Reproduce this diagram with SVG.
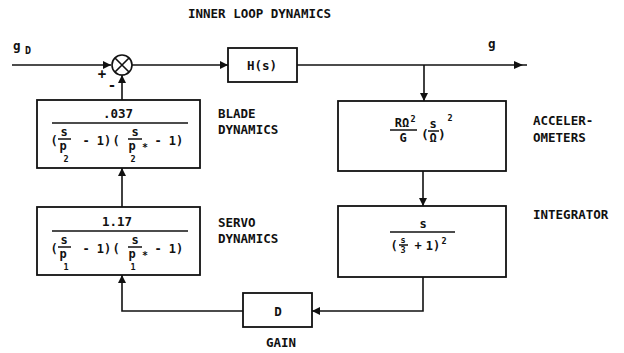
<svg xmlns="http://www.w3.org/2000/svg" width="624" height="353" viewBox="0 0 624 353">
<style>
  text { font-family: "DejaVu Sans Mono", "Liberation Mono", monospace; fill: #111; font-weight: bold; }
  .lbl { font-size: 12.5px; }
  .num { font-size: 12.5px; text-anchor: middle; }
  .den { font-size: 12px; text-anchor: middle; }
  .sub { font-size: 8.5px; text-anchor: middle; }
  .box { fill: #fff; stroke: #111; stroke-width: 1.8; }
  .ln { fill: none; stroke: #111; stroke-width: 1.6; }
  .bar { stroke: #111; stroke-width: 1.5; }
</style>
<defs>
  <marker id="arr" viewBox="0 0 10 10" refX="10" refY="5" markerWidth="8" markerHeight="8" markerUnits="userSpaceOnUse" orient="auto">
    <path d="M0,0 L10,5 L0,10 Z" fill="#111"/>
  </marker>
</defs>

<text class="lbl" x="188" y="18">INNER LOOP DYNAMICS</text>

<g id="connectors">
  <path class="ln" d="M12,65 L111,65" marker-end="url(#arr)"/>
  <path class="ln" d="M132,65 L228,65" marker-end="url(#arr)"/>
  <path class="ln" d="M297,65 L527,65"/>
  <path d="M514,61 L523,65 L514,69 Z" fill="#111"/>
  <path class="ln" d="M424,65 L424,101" marker-end="url(#arr)"/>
  <path class="ln" d="M423,171 L423,206" marker-end="url(#arr)"/>
  <path class="ln" d="M423,277 L423,311 L312,311" marker-end="url(#arr)"/>
  <path class="ln" d="M243,311 L122,311 L122,275" marker-end="url(#arr)"/>
  <path class="ln" d="M122,207 L122,168" marker-end="url(#arr)"/>
  <path class="ln" d="M122,100 L122,75" marker-end="url(#arr)"/>
</g>

<g id="input-label">
  <text class="lbl" x="13" y="50">g</text>
  <text class="sub" x="28" y="54" style="font-size:10px">D</text>
</g>

<g id="output-label">
  <text class="lbl" x="488" y="48">g</text>
</g>

<g id="junction">
  <circle cx="122" cy="65" r="10" fill="#fff" stroke="#111" stroke-width="1.6"/>
  <path class="ln" d="M115,58 L129,72 M129,58 L115,72"/>
  <text class="lbl" x="102" y="79" text-anchor="middle" style="font-size:14px">+</text>
  <text class="lbl" x="112" y="90" text-anchor="middle" style="font-size:14px">-</text>
</g>

<g id="H">
  <rect class="box" x="228" y="48" width="69" height="34"/>
  <text class="num" x="262" y="70">H(s)</text>
</g>

<g id="blade">
  <rect class="box" x="37" y="100" width="163" height="68"/>
  <text class="num" x="118" y="118">.037</text>
  <line class="bar" x1="52" y1="123" x2="188" y2="123"/>
  <text class="den" x="54" y="145">(</text>
  <text class="den" x="64" y="136">s</text>
  <line class="bar" x1="58" y1="139" x2="71" y2="139"/>
  <text class="den" x="63" y="150">p</text>
  <text class="sub" x="66" y="162">2</text>
  <text class="den" x="86" y="145">-</text>
  <text class="den" x="104" y="145">1)</text>
  <text class="den" x="116" y="145">(</text>
  <text class="den" x="135" y="136">s</text>
  <line class="bar" x1="128" y1="139" x2="142" y2="139"/>
  <text class="den" x="132" y="150">p</text>
  <text class="sub" x="145" y="151" style="font-size:10px">*</text>
  <text class="sub" x="133" y="162">2</text>
  <text class="den" x="158" y="145">-</text>
  <text class="den" x="176" y="145">1)</text>
  <text class="lbl" x="218" y="118">BLADE</text>
  <text class="lbl" x="218" y="134">DYNAMICS</text>
</g>

<g id="servo">
  <rect class="box" x="37" y="207" width="163" height="68"/>
  <text class="num" x="117" y="226">1.17</text>
  <line class="bar" x1="52" y1="231" x2="188" y2="231"/>
  <text class="den" x="54" y="253">(</text>
  <text class="den" x="64" y="244">s</text>
  <line class="bar" x1="58" y1="247" x2="71" y2="247"/>
  <text class="den" x="63" y="258">p</text>
  <text class="sub" x="66" y="270">1</text>
  <text class="den" x="86" y="253">-</text>
  <text class="den" x="104" y="253">1)</text>
  <text class="den" x="116" y="253">(</text>
  <text class="den" x="135" y="244">s</text>
  <line class="bar" x1="128" y1="247" x2="142" y2="247"/>
  <text class="den" x="132" y="258">p</text>
  <text class="sub" x="145" y="259" style="font-size:10px">*</text>
  <text class="sub" x="133" y="270">1</text>
  <text class="den" x="158" y="253">-</text>
  <text class="den" x="176" y="253">1)</text>
  <text class="lbl" x="218" y="227">SERVO</text>
  <text class="lbl" x="218" y="243">DYNAMICS</text>
</g>

<g id="accelerometers">
  <rect class="box" x="338" y="101" width="168" height="70"/>
  <text class="den" x="402" y="127">RΩ</text>
  <text class="sub" x="413" y="122">2</text>
  <line class="bar" x1="390" y1="130" x2="417" y2="130"/>
  <text class="den" x="403" y="142">G</text>
  <text class="den" x="425" y="139" style="font-size:13px">(</text>
  <text class="den" x="433" y="128">s</text>
  <line class="bar" x1="428" y1="131" x2="439" y2="131"/>
  <text class="den" x="433" y="142">Ω</text>
  <text class="den" x="442" y="139" style="font-size:13px">)</text>
  <text class="sub" x="450" y="121">2</text>
  <text class="lbl" x="533" y="125">ACCELER-</text>
  <text class="lbl" x="533" y="142">OMETERS</text>
</g>

<g id="integrator">
  <rect class="box" x="338" y="206" width="168" height="71"/>
  <text class="den" x="423" y="228">s</text>
  <line class="bar" x1="390" y1="232" x2="455" y2="232"/>
  <text class="den" x="394" y="250">(</text>
  <text class="sub" x="403" y="243">s</text>
  <line class="bar" x1="399" y1="245" x2="408" y2="245"/>
  <text class="sub" x="403" y="253">3</text>
  <text class="den" x="418" y="250">+</text>
  <text class="den" x="433" y="250">1)</text>
  <text class="sub" x="444" y="244">2</text>
  <text class="lbl" x="533" y="219">INTEGRATOR</text>
</g>

<g id="gain">
  <rect class="box" x="243" y="293" width="69" height="34"/>
  <text class="num" x="278" y="316">D</text>
  <text class="lbl" x="281" y="347" text-anchor="middle">GAIN</text>
</g>
</svg>
